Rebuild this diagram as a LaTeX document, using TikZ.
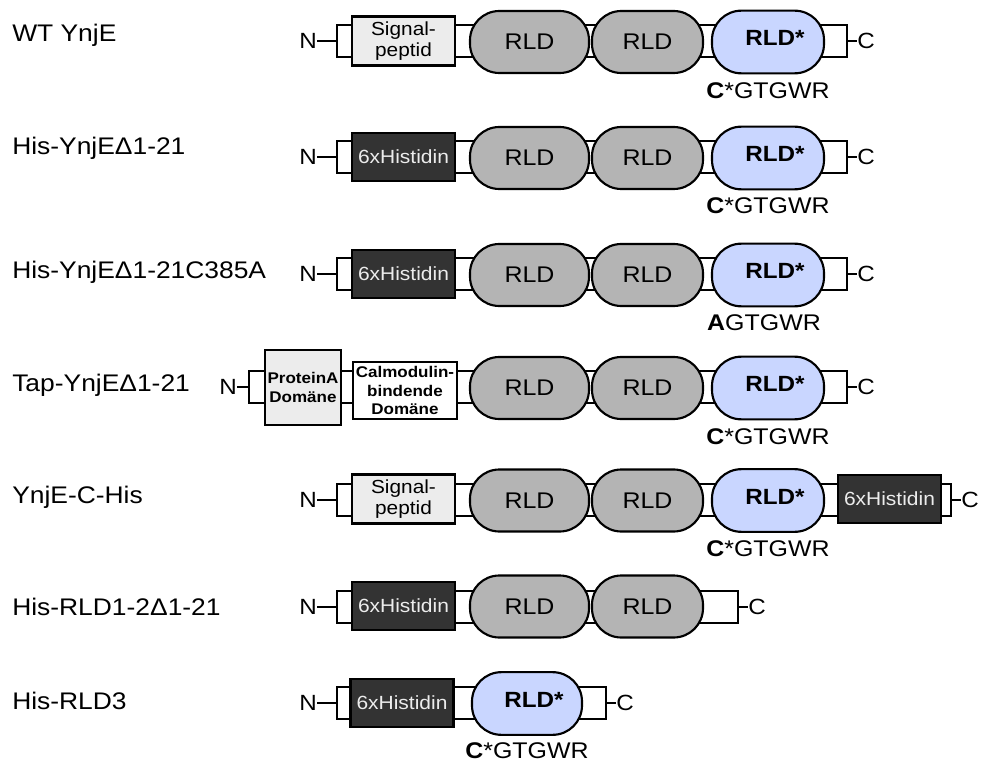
\documentclass[tikz,border=0pt]{standalone}
\usepackage{fontspec}
\setmainfont{Liberation Sans}[FakeStretch=1.1]
\definecolor{rldgray}{RGB}{180,180,180}
\definecolor{rldblue}{RGB}{201,214,255}
\definecolor{sigfill}{RGB}{236,236,236}
\definecolor{hisfill}{RGB}{51,51,51}
\definecolor{histext}{RGB}{236,236,236}
\tikzset{
  lw/.style={line width=1.6pt},
  lbl/.style={anchor=west, inner sep=0pt, font=\fontsize{18}{20}\selectfont},
  term/.style={inner sep=0pt, font=\fontsize{16.5}{18}\selectfont},
  bb/.style={lw, draw, fill=white, rectangle, inner sep=0pt, minimum height=24pt},
  rld/.style={lw, draw, fill=rldgray, rectangle, rounded corners=22pt, inner sep=0pt, minimum height=46.5pt, font=\fontsize{17}{18}\selectfont},
  rlds/.style={lw, draw, fill=rldblue, rectangle, rounded corners=22pt, inner sep=0pt, minimum height=47pt, minimum width=84pt},
  sig/.style={lw, draw, fill=sigfill, rectangle, inner sep=0pt, minimum width=77.25pt, minimum height=36.75pt, align=center, font=\fontsize{14.2}{16}\selectfont},
  his/.style={lw, draw, fill=hisfill, rectangle, inner sep=0pt, minimum width=77.25pt, minimum height=36pt, text=histext, font=\fontsize{14.3}{16}\selectfont},
  prota/.style={lw, draw, fill=sigfill, rectangle, inner sep=0pt, minimum width=57pt, minimum height=56.25pt, align=center, font=\bfseries\fontsize{11.6}{14.2}\selectfont},
  calm/.style={lw, draw, fill=white, rectangle, inner sep=0pt, minimum width=78pt, minimum height=42.75pt, align=center, font=\bfseries\fontsize{11.6}{14.2}\selectfont},
  motif/.style={inner sep=0pt, font=\fontsize{17}{19}\selectfont},
  rsl/.style={inner sep=0pt, font=\bfseries\fontsize{16.5}{18}\selectfont}
}
\newcommand{\bbone}[4]{\node[bb, minimum width={(#4-#3)*0.75pt}] (#1) at ({(#3+#4)/2},#2) {};}
\newcommand{\rldstar}[3]{\node[rlds] (#1) at (#2,#3) {}; \node[rsl] (#1t) at ({#2+7},{#3-4}) {RLD*};}
\begin{document}
\begin{tikzpicture}[x=0.75pt,y=-0.75pt]
\useasboundingbox (0,0) rectangle (990,763);

% ---------- Row 1: WT YnjE ----------
\node[lbl] (l1) at (12,35) {WT YnjE};
\bbone{b1}{41}{337}{847}
\node[term] (n1) at (308,41) {N};
\node[term] (c1) at (866,41) {C};
\draw[lw] (n1.east) -- (b1.west);
\draw[lw] (b1.east) -- (c1.west);
\node[sig] (s1) at (403.5,41) {Signal-\\peptid};
\node[rld, minimum width=89.25pt] (r11) at (529.5,42) {RLD};
\node[rld, minimum width=83.25pt] (r12) at (647.5,42) {RLD};
\rldstar{r13}{768}{42}
\node[motif] (m1) at (768,91) {\textbf{C}*GTGWR};

% ---------- Row 2: His-YnjE d1-21 ----------
\node[lbl] (l2) at (12,148) {His-YnjEΔ1-21};
\bbone{b2}{157}{337}{847}
\node[term] (n2) at (308,157) {N};
\node[term] (c2) at (866,157) {C};
\draw[lw] (n2.east) -- (b2.west);
\draw[lw] (b2.east) -- (c2.west);
\node[his] (h2) at (403.5,157) {6xHistidin};
\node[rld, minimum width=89.25pt] (r21) at (529.5,158) {RLD};
\node[rld, minimum width=83.25pt] (r22) at (647.5,158) {RLD};
\rldstar{r23}{768}{158}
\node[motif] (m2) at (768,206) {\textbf{C}*GTGWR};

% ---------- Row 3: His-YnjE d1-21 C385A ----------
\node[lbl] (l3) at (12,272) {His-YnjEΔ1-21C385A};
\bbone{b3}{274}{337}{847}
\node[term] (n3) at (308,274) {N};
\node[term] (c3) at (866,274) {C};
\draw[lw] (n3.east) -- (b3.west);
\draw[lw] (b3.east) -- (c3.west);
\node[his] (h3) at (403.5,274) {6xHistidin};
\node[rld, minimum width=89.25pt] (r31) at (529.5,275) {RLD};
\node[rld, minimum width=83.25pt] (r32) at (647.5,275) {RLD};
\rldstar{r33}{768}{275}
\node[motif] (m3) at (764,323) {\textbf{A}GTGWR};

% ---------- Row 4: Tap-YnjE d1-21 ----------
\node[lbl] (l4) at (12,385) {Tap-YnjEΔ1-21};
\bbone{b4}{387}{249}{847}
\node[term] (n4) at (228,387) {N};
\node[term] (c4) at (866,387) {C};
\draw[lw] (n4.east) -- (b4.west);
\draw[lw] (b4.east) -- (c4.west);
\node[prota] (p4) at (303,387.5) {ProteinA\\Domäne};
\node[calm] (k4) at (405,390.5) {Calmodulin-\\bindende\\Domäne};
\node[rld, minimum width=89.25pt] (r41) at (529.5,388) {RLD};
\node[rld, minimum width=83.25pt] (r42) at (647.5,388) {RLD};
\rldstar{r43}{768}{388}
\node[motif] (m4) at (768,437) {\textbf{C}*GTGWR};

% ---------- Row 5: YnjE-C-His ----------
\node[lbl] (l5) at (12,497) {YnjE-C-His};
\bbone{b5}{500}{337}{951}
\node[term] (n5) at (308,500) {N};
\node[term] (c5) at (970,500) {C};
\draw[lw] (n5.east) -- (b5.west);
\draw[lw] (b5.east) -- (c5.west);
\node[sig] (s5) at (403.5,499) {Signal-\\peptid};
\node[rld, minimum width=89.25pt] (r51) at (529.5,500.5) {RLD};
\node[rld, minimum width=83.25pt] (r52) at (647.5,500.5) {RLD};
\rldstar{r53}{768}{500.5}
\node[his] (h5) at (889.5,499) {6xHistidin};
\node[motif] (m5) at (768,549) {\textbf{C}*GTGWR};

% ---------- Row 6: His-RLD1-2 d1-21 ----------
\node[lbl] (l6) at (12,607) {His-RLD1-2Δ1-21};
\bbone{b6}{607}{337}{738}
\node[term] (n6) at (308,607) {N};
\node[term] (c6) at (757,607) {C};
\draw[lw] (n6.east) -- (b6.west);
\draw[lw] (b6.east) -- (c6.west);
\node[his] (h6) at (403.5,606) {6xHistidin};
\node[rld, minimum width=89.25pt] (r61) at (529.5,606.5) {RLD};
\node[rld, minimum width=83.25pt] (r62) at (647.5,606.5) {RLD};

% ---------- Row 7: His-RLD3 ----------
\node[lbl] (l7) at (12,701) {His-RLD3};
\bbone{b7}{703}{337}{606}
\node[term] (n7) at (308,703) {N};
\node[term] (c7) at (625,703) {C};
\draw[lw] (n7.east) -- (b7.west);
\draw[lw] (b7.east) -- (c7.west);
\node[his] (h7) at (402,703) {6xHistidin};
\node[rlds, minimum width=82.5pt] (r71) at (527,703.5) {};
\node[rsl] (r71t) at (534,699.5) {RLD*};
\node[motif] (m7) at (527,751) {\textbf{C}*GTGWR};
\end{tikzpicture}
\end{document}
